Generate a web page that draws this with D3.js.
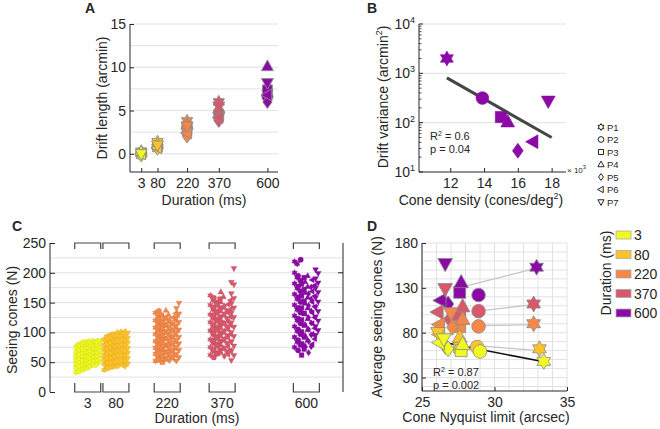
<!DOCTYPE html>
<html><head><meta charset="utf-8">
<script src="https://cdn.jsdelivr.net/npm/d3@7"></script>
<style>body{margin:0;background:#fff} svg text{font-family:"Liberation Sans",Arial,sans-serif;fill:#262626}</style>
</head><body><svg id="c" width="660" height="429"></svg>
<script>
// ---------- DATA ----------
const durations = [3, 80, 220, 370, 600];
const durationColors = ["#f0f921", "#fdc328", "#f48849", "#d8576b", "#8b0aa5"];
const participants = ["P1", "P2", "P3", "P4", "P5", "P6", "P7"];
const shapes = ["hexagram", "circle", "square", "triangle", "diamond", "triangleLeft", "triangleDown"];

// Panel A: drift length (arcmin) [duration][participant]
const driftLength = [
  [0.3, 0.1, 0.0, 0.2, -0.2, 0.0, 0.0],
  [1.4, 0.9, 0.8, 1.1, 0.6, 0.7, 1.0],
  [3.8, 3.0, 2.7, 3.4, 2.0, 2.4, 3.2],
  [6.0, 4.8, 4.4, 5.2, 3.8, 4.2, 5.5],
  [7.0, 6.6, 7.4, 10.1, 6.0, 6.8, 8.2]
];

// Panel B: cone density (x10^3 cones/deg^2) and drift variance (arcmin^2), 600 ms
const coneDensity = [11.8, 13.9, 15.0, 15.4, 16.0, 16.9, 17.8];
const driftVariance = [2000, 316, 130, 103, 27, 41, 275];
const fitBX = [11.8, 18.0];
const fitBY = [810, 50];

// Panel C: seeing cones per trial [participant][trials]
const seeing3 = [
  [33, 37, 41, 45, 47, 52, 54, 59, 61, 65, 68, 73, 76, 80],
  [35, 40, 43, 47, 51, 55, 57, 61, 63, 67, 71, 74, 78, 82],
  [38, 41, 46, 50, 53, 56, 60, 62, 66, 70, 72, 77, 80, 84],
  [40, 44, 48, 51, 55, 58, 61, 65, 68, 71, 75, 79, 82, 85],
  [43, 46, 50, 54, 57, 60, 63, 67, 69, 73, 77, 80, 83, 86],
  [45, 48, 52, 55, 59, 62, 66, 68, 72, 75, 78, 81, 84, 85],
  [46, 50, 53, 57, 60, 64, 66, 70, 73, 76, 79, 82, 84, 86]
];
const seeing80 = [
  [37, 42, 47, 51, 55, 59, 62, 66, 71, 74, 79, 84, 88, 93],
  [40, 44, 49, 52, 57, 60, 65, 68, 72, 77, 81, 86, 90, 95],
  [42, 46, 50, 55, 58, 63, 66, 71, 75, 78, 83, 88, 92, 97],
  [43, 48, 51, 56, 60, 64, 69, 72, 77, 81, 85, 90, 95, 100],
  [44, 49, 53, 58, 61, 66, 70, 74, 78, 83, 87, 91, 96, 101],
  [45, 50, 54, 59, 62, 67, 71, 76, 79, 84, 88, 93, 97, 102],
  [43, 47, 52, 56, 61, 65, 68, 73, 78, 82, 86, 90, 94, 99]
];
const seeing220 = [
  [52, 58, 64, 69, 74, 80, 85, 91, 97, 102, 108, 115, 120, 127, 133],
  [54, 60, 65, 71, 77, 83, 88, 93, 99, 105, 110, 116, 123, 129, 136],
  [50, 56, 61, 67, 73, 78, 84, 90, 95, 101, 107, 112, 118, 124],
  [55, 61, 66, 72, 78, 83, 89, 95, 100, 106, 113, 118, 124, 130, 137],
  [53, 59, 65, 70, 76, 82, 87, 93, 98, 104, 109, 115, 121],
  [56, 62, 67, 73, 79, 84, 90, 96, 102, 107, 113, 120, 125, 132],
  [52, 58, 63, 70, 75, 81, 87, 92, 99, 104, 111, 117, 124, 131, 140, 149]
];
const seeing370 = [
  [62, 69, 75, 82, 88, 96, 103, 109, 117, 124, 130, 138, 146, 154, 162],
  [58, 65, 71, 79, 86, 92, 100, 107, 113, 121, 128, 134, 142, 150, 158],
  [64, 70, 78, 85, 91, 99, 105, 113, 120, 126, 134, 141, 147, 156],
  [66, 73, 79, 87, 94, 100, 108, 115, 121, 129, 136, 142, 151, 160, 168],
  [60, 67, 73, 81, 88, 94, 102, 109, 115, 123, 130, 136, 144],
  [63, 70, 76, 84, 91, 97, 105, 112, 118, 126, 133, 139, 147, 154],
  [53, 61, 68, 77, 84, 93, 100, 109, 116, 125, 132, 141, 148, 157, 165, 180, 184, 207]
];
const seeing600 = [
  [75, 84, 92, 102, 110, 120, 128, 138, 146, 156, 164, 174, 182, 192, 200, 215, 219],
  [70, 79, 87, 97, 105, 115, 123, 133, 141, 151, 159, 169, 177, 187, 195, 222],
  [62, 72, 81, 92, 101, 112, 121, 132, 141, 152, 161, 172, 181, 192],
  [78, 87, 95, 105, 113, 123, 131, 141, 149, 159, 167, 177, 185, 195],
  [66, 76, 85, 96, 105, 116, 125, 136, 145, 156, 165, 176],
  [80, 89, 97, 107, 115, 125, 133, 143, 151, 161, 169, 179, 188],
  [95, 103, 110, 119, 126, 135, 142, 151, 158, 167, 174, 183, 190, 199, 205]
];
const seeingCones = [seeing3, seeing80, seeing220, seeing370, seeing600];

// Panel D: cone Nyquist limit (arcsec) and average seeing cones [duration][participant]
const nyquist = [
  [33.4, 29.0, 27.7, 27.8, 26.8, 26.2, 26.5],
  [33.1, 28.8, 27.6, 27.6, 26.6, 26.2, 26.1],
  [32.7, 28.9, 27.6, 27.8, 27.1, 26.2, 27.0],
  [32.7, 28.9, 27.6, 27.8, 26.9, 26.1, 26.6],
  [32.9, 28.9, 27.6, 27.7, 26.8, 26.3, 26.6]
];
const avgCones = [
  [48, 59, 60, 67, 62, 69, 73],
  [62, 64, 64, 75, 65, 78, 80],
  [90, 87, 87, 95, 86, 89, 102],
  [112, 104, 98, 109, 95, 103, 129],
  [153, 122, 125, 136, 112, 116, 157]
];
const fitDX = [[26.9, 33.4], [28.5, 33.0], [29.3, 32.5], [29.3, 32.5], [27.8, 32.9]];
const fitDY = [[68, 47.5], [66, 60], [88, 89], [105, 111], [131, 152]];

// ---------- HELPERS ----------
const svg = d3.select("#c");
const axisColor = "#262626";
const gridColor = "#e2e2e2";

function shapePath(s, r) {
  const p = [];
  switch (s) {
    case "hexagram":
      for (let k = 0; k < 12; k++) {
        const a = -Math.PI / 2 + k * Math.PI / 6, rr = k % 2 ? r * 0.577 : r;
        p.push([rr * Math.cos(a), rr * Math.sin(a)]);
      }
      break;
    case "circle": {
      const c = r * 0.85;
      return `M${c},0A${c},${c} 0 1,1 ${-c},0A${c},${c} 0 1,1 ${c},0Z`;
    }
    case "square": { const h = r * 0.75; p.push([-h, -h], [h, -h], [h, h], [-h, h]); break; }
    case "triangle": p.push([0, -r], [r * 0.92, r * 0.65], [-r * 0.92, r * 0.65]); break;
    case "triangleDown": p.push([0, r], [r * 0.92, -r * 0.65], [-r * 0.92, -r * 0.65]); break;
    case "triangleLeft": p.push([-r, 0], [r * 0.65, -r * 0.92], [r * 0.65, r * 0.92]); break;
    case "diamond": p.push([0, -r], [r * 0.72, 0], [0, r], [-r * 0.72, 0]); break;
  }
  return "M" + p.map(q => q[0].toFixed(2) + "," + q[1].toFixed(2)).join("L") + "Z";
}
function styleAxis(g, fs) {
  g.select(".domain").remove();
  g.selectAll("line").attr("stroke", axisColor);
  g.selectAll("text").attr("font-size", fs || 14).attr("fill", axisColor)
    .attr("font-family", '"Liberation Sans", Arial, sans-serif');
}
function line(g, x1, y1, x2, y2, col, w) {
  g.append("line").attr("x1", x1).attr("y1", y1).attr("x2", x2).attr("y2", y2)
    .attr("stroke", col).attr("stroke-width", w || 1);
}
function label(t, x, y, size, opts) {
  const e = svg.append("text").attr("x", x).attr("y", y).attr("font-size", size).text(t);
  if (opts && opts.bold) e.attr("font-weight", "bold");
  if (opts && opts.anchor) e.attr("text-anchor", opts.anchor);
  return e;
}
function vlabel(t, x, y, size) {
  return svg.append("text").attr("transform", `translate(${x},${y}) rotate(-90)`)
    .attr("text-anchor", "middle").attr("font-size", size).text(t);
}

// ---------- PANEL A ----------
{
  const g = svg.append("g");
  const x = d3.scaleLinear().domain([-50, 650]).range([130, 278]);
  const y = d3.scaleLinear().domain([-2.1, 15]).range([172, 24]);
  [0, 2.5, 5, 7.5, 10, 12.5, 15].forEach(v => line(g, 130, y(v), 278, y(v), gridColor));
  const ya = g.append("g").attr("transform", "translate(130,0)")
    .call(d3.axisLeft(y).tickValues([0, 5, 10, 15]).tickSizeInner(-4).tickSizeOuter(0).tickPadding(4));
  styleAxis(ya);
  const xa = g.append("g").attr("transform", "translate(0,172)")
    .call(d3.axisBottom(x).tickValues(durations).tickSizeInner(-4).tickSizeOuter(0).tickPadding(6));
  styleAxis(xa);
  line(g, 130, 24, 130, 172, axisColor);
  line(g, 130, 172, 278, 172, axisColor);
  durations.forEach((d, i) => {
    driftLength[i].forEach((v, j) => {
      g.append("path").attr("d", shapePath(shapes[j], 6.5))
        .attr("transform", `translate(${x(d)},${y(v)})`)
        .attr("fill", durationColors[i]).attr("stroke", "#8a8a8a").attr("stroke-width", 0.9);
    });
  });
  vlabel("Drift length (arcmin)", 107, 98, 14);
  label("Duration (ms)", 204, 205, 14, { anchor: "middle" });
  label("A", 85, 13, 14, { bold: true });
}

// ---------- PANEL B ----------
{
  const g = svg.append("g");
  const x = d3.scaleLinear().domain([10.15, 18.85]).range([419, 566]);
  const y = d3.scaleLog().domain([10, 1e4]).range([172, 24]);
  [100, 1000, 10000].forEach(v => line(g, 419, y(v), 566, y(v), gridColor));
  [1, 2, 3].forEach(e => {
    for (let m = 2; m <= 9; m++) { const v = m * Math.pow(10, e); line(g, 419, y(v), 421.5, y(v), axisColor, 0.8); }
  });
  [1, 2, 3, 4].forEach(e => {
    const v = Math.pow(10, e);
    line(g, 419, y(v), 423, y(v), axisColor);
    const t = g.append("text").attr("x", 415).attr("y", y(v) + 5).attr("text-anchor", "end").attr("font-size", 14);
    t.append("tspan").text("10");
    t.append("tspan").attr("font-size", 9).attr("dy", -6).text(e);
  });
  const xa = g.append("g").attr("transform", "translate(0,172)")
    .call(d3.axisBottom(x).tickValues([12, 14, 16, 18]).tickSizeInner(-4).tickSizeOuter(0).tickPadding(6));
  styleAxis(xa);
  line(g, 419, 24, 419, 172, axisColor);
  line(g, 419, 172, 566, 172, axisColor);
  const xt = g.append("text").attr("x", 567).attr("y", 173).attr("font-size", 8).attr("fill", "#666");
  xt.append("tspan").text("\u00d7 10");
  xt.append("tspan").attr("dy", -4).attr("font-size", 6).text("3");
  g.append("path").datum(fitBX.map((v, i) => [v, fitBY[i]]))
    .attr("d", d3.line().x(d => x(d[0])).y(d => y(d[1])))
    .attr("stroke", "#454545").attr("stroke-width", 3).attr("fill", "none");
  coneDensity.forEach((c, j) => {
    g.append("path").attr("d", shapePath(shapes[j], 7.5))
      .attr("transform", `translate(${x(c)},${y(driftVariance[j])})`)
      .attr("fill", durationColors[4]).attr("stroke", durationColors[4]).attr("stroke-width", 0.6);
  });
  const r = g.append("text").attr("x", 430).attr("y", 140).attr("font-size", 11);
  r.append("tspan").text("R");
  r.append("tspan").attr("dy", -4).attr("font-size", 7).text("2");
  r.append("tspan").attr("dy", 4).text(" = 0.6");
  g.append("text").attr("x", 430).attr("y", 153).attr("font-size", 11).text("p = 0.04");
  const yl = svg.append("text").attr("transform", "translate(388,97) rotate(-90)").attr("text-anchor", "middle").attr("font-size", 14);
  yl.append("tspan").text("Drift variance (arcmin");
  yl.append("tspan").attr("dy", -6).attr("font-size", 9).text("2");
  yl.append("tspan").attr("dy", 6).text(")");
  const xl = svg.append("text").attr("x", 481).attr("y", 205).attr("text-anchor", "middle").attr("font-size", 14);
  xl.append("tspan").text("Cone density (cones/deg");
  xl.append("tspan").attr("dy", -6).attr("font-size", 9).text("2");
  xl.append("tspan").attr("dy", 6).text(")");
  label("B", 367, 13, 14, { bold: true });
  participants.forEach((p, j) => {
    const yy = 127 + j * 12.5;
    g.append("path").attr("d", shapePath(shapes[j], 3.4)).attr("transform", `translate(601,${yy})`)
      .attr("fill", "#fff").attr("stroke", "#222").attr("stroke-width", 1);
    g.append("text").attr("x", 607).attr("y", yy + 3.5).attr("font-size", 9.5).text(p);
  });
}

// ---------- PANEL C ----------
{
  const g = svg.append("g");
  const x = d3.scaleLinear().domain([-100, 700]).range([50, 343]);
  const y = d3.scaleLinear().domain([0, 250]).range([392, 243]);
  const px = d3.scalePoint().domain(participants).range([-10.5, 10.5]);
  [25, 50, 75, 100, 125, 150, 175, 200, 225].forEach(v => line(g, 50, y(v), 343, y(v), gridColor));
  line(g, 50, 243, 50, 392, axisColor);
  line(g, 343, 243, 343, 392, axisColor);
  const ya = g.append("g").attr("transform", "translate(50,0)")
    .call(d3.axisLeft(y).tickValues([0, 50, 100, 150, 200, 250]).tickSizeInner(-5).tickSizeOuter(0).tickPadding(4));
  styleAxis(ya);
  [50, 100, 150, 200].forEach(v => line(g, 338, y(v), 343, y(v), axisColor));
  durations.forEach((d, i) => {
    const cx = x(d);
    g.append("path").attr("d", `M${cx - 13},249V243H${cx + 13}V249`).attr("fill", "none").attr("stroke", "#444").attr("stroke-width", 1.2);
    g.append("path").attr("d", `M${cx - 13},383V392H${cx + 13}V383`).attr("fill", "none").attr("stroke", "#444").attr("stroke-width", 1.2);
    g.append("text").attr("x", cx).attr("y", 408).attr("text-anchor", "middle").attr("font-size", 14).text(d);
    seeingCones[i].forEach((vals, j) => {
      vals.forEach((v, k) => {
        g.append("path").attr("d", shapePath(shapes[j], 3.1))
          .attr("transform", `translate(${cx + px(participants[j]) + (k % 2 ? 1.3 : -1.3)},${y(v)})`)
          .attr("fill", durationColors[i]).attr("stroke", d3.color(durationColors[i]).darker(0.4)).attr("stroke-width", 0.4);
      });
    });
  });
  vlabel("Seeing cones (N)", 17, 320, 14);
  label("Duration (ms)", 197, 423, 14, { anchor: "middle" });
  label("C", 12, 231, 14, { bold: true });
}

// ---------- PANEL D ----------
{
  const g = svg.append("g");
  const x = d3.scaleLinear().domain([25, 35]).range([422, 567]);
  const y = d3.scaleLinear().domain([15, 180]).range([391, 243]);
  d3.range(25, 35.5, 1).forEach(v => line(g, x(v), 243, x(v), 391, gridColor));
  d3.range(20, 181, 10).forEach(v => line(g, 422, y(v), 567, y(v), gridColor));
  const ya = g.append("g").attr("transform", "translate(422,0)")
    .call(d3.axisLeft(y).tickValues([30, 80, 130, 180]).tickSizeInner(-4).tickSizeOuter(0).tickPadding(4));
  styleAxis(ya);
  const xa = g.append("g").attr("transform", "translate(0,391)")
    .call(d3.axisBottom(x).tickValues([25, 30, 35]).tickSizeInner(-4).tickSizeOuter(0).tickPadding(6));
  styleAxis(xa);
  line(g, 422, 243, 422, 391, axisColor);
  line(g, 422, 391, 567, 391, axisColor);
  fitDX.forEach((fx, i) => {
    g.append("path").datum(fx.map((v, k) => [v, fitDY[i][k]]))
      .attr("d", d3.line().x(d => x(d[0])).y(d => y(d[1])))
      .attr("stroke", i === 0 ? "#111" : "#c4c4c4").attr("stroke-width", i === 0 ? 1.5 : 1.3).attr("fill", "none");
  });
  for (let i = durations.length - 1; i >= 0; i--) {
    nyquist[i].forEach((nx, j) => {
      g.append("path").attr("d", shapePath(shapes[j], 8))
        .attr("transform", `translate(${x(nx)},${y(avgCones[i][j])})`)
        .attr("fill", durationColors[i]).attr("stroke", "#8a8a8a").attr("stroke-width", 0.8);
    });
  }
  const r = g.append("text").attr("x", 433).attr("y", 376).attr("font-size", 11);
  r.append("tspan").text("R");
  r.append("tspan").attr("dy", -4).attr("font-size", 7).text("2");
  r.append("tspan").attr("dy", 4).text(" = 0.87");
  g.append("text").attr("x", 433).attr("y", 389).attr("font-size", 11).text("p = 0.002");
  vlabel("Average seeing cones (N)", 382, 317, 14);
  label("Cone Nyquist limit (arcsec)", 486, 422, 14, { anchor: "middle" });
  label("D", 367, 231, 14, { bold: true });
}

// ---------- DURATION LEGEND ----------
{
  const g = svg.append("g");
  durations.forEach((d, i) => {
    const yy = 235 + i * 19.5;
    g.append("rect").attr("x", 616).attr("y", yy - 4).attr("width", 15).attr("height", 8)
      .attr("fill", durationColors[i]).attr("stroke", "#aaa").attr("stroke-width", 0.8);
    g.append("text").attr("x", 634).attr("y", yy + 5).attr("font-size", 14).text(d);
  });
  vlabel("Duration (ms)", 611, 273, 14);
}
</script></body></html>
